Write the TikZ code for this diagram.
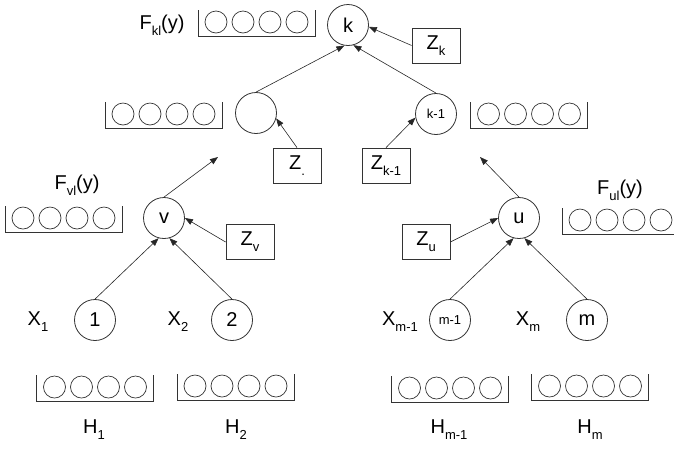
\documentclass[tikz,border=0pt]{standalone}
\usepackage{fontspec}
\setmainfont{Liberation Sans}
\usetikzlibrary{arrows.meta}
\usetikzlibrary{positioning}

\newcommand{\lowsub}[1]{\raisebox{-6pt}{\fontsize{13}{14}\selectfont #1}}

\tikzset{
    state/.style={draw=black!80,circle,line width=0.8pt,
        minimum size=41pt,inner sep=0pt,
        font=\fontsize{20}{24}\selectfont},
    small/.style={font=\fontsize{13}{15}\selectfont},
    zbox/.style={draw=black!80,line width=0.8pt,
        minimum width=48pt,minimum height=35pt,inner sep=0pt,
        font=\fontsize{20}{24}\selectfont},
    lbl/.style={inner sep=0pt,font=\fontsize{20}{24}\selectfont},
    link/.style={-{Triangle[length=8pt,width=6pt]},line width=0.6pt,draw=black!85},
    buf/.pic={
        \foreach \i in {0,...,3}{%
            \node[draw=black!80,circle,line width=0.7pt,
                minimum size=22pt,inner sep=0pt] (-c\i) at (-40.5+27*\i,0) {};
        }
        \draw[black!80,line width=0.8pt] (-58.5,-12) -- (-58.5,14) -- (58.5,14) -- (58.5,-12);
    },
}

\begin{document}
\begin{tikzpicture}[x=1pt,y=-1pt]
    \useasboundingbox (0,0) rectangle (674,451);

    % tree nodes
    \node[state] (k) at (348,25) {k};
    \node[state] (p) at (256,113) {};
    \node[state,small] (k1) at (436,114) {k-1};
    \node[state] (v) at (164,218) {v};
    \node[state] (u) at (519,218) {u};
    \node[state] (n1) at (95,320) {1};
    \node[state] (n2) at (232,320) {2};
    \node[state,small] (nm1) at (450,320) {m-1};
    \node[state] (nm) at (587,320) {m};

    % Z boxes
    \node[zbox] (zk) at (436,45.5) {Z\lowsub{k}};
    \node[zbox] (zp) at (297,165.5) {Z\lowsub{.}};
    \node[zbox] (zk1) at (386,165.5) {Z\lowsub{k-1}};
    \node[zbox] (zv) at (250,242) {Z\lowsub{v}};
    \node[zbox] (zu) at (426,242) {Z\lowsub{u}};

    % buffers
    \foreach \bx/\by/\bn in {256.5/22/bkl,163.5/114/bp,529/114/bk1,63.5/218/bvl,
        620.5/220/bul,95/387/bh1,235.5/386/bh2,450/388/bhm1,590/386/bhm}{%
        \pic (\bn) at (\bx,\by) {buf};
    }

    % labels
    \node[lbl] (fkl) at (162,25) {F\lowsub{kl}(y)};
    \node[lbl] (fvl) at (77,185) {F\lowsub{vl}(y)};
    \node[lbl] (ful) at (620,190) {F\lowsub{ul}(y)};
    \node[lbl] (x1) at (38,322) {X\lowsub{1}};
    \node[lbl] (x2) at (178,322) {X\lowsub{2}};
    \node[lbl] (xm1) at (400,322) {X\lowsub{m-1}};
    \node[lbl] (xm) at (528,322) {X\lowsub{m}};
    \node[lbl] (h1) at (94,430) {H\lowsub{1}};
    \node[lbl] (h2) at (236,430) {H\lowsub{2}};
    \node[lbl] (hm1) at (449,430) {H\lowsub{m-1}};
    \node[lbl] (hm) at (590,430) {H\lowsub{m}};

    \coordinate (vt) at (218,157);
    \coordinate (ut) at (480,157);

    % connectors
    \draw[link] (zk.west) -- (k.-5);
    \draw[link] (p.north) -- (k.-100);
    \draw[link] (k1.north) -- (k.-75);
    \draw[link] (zp.north) -- (p.-15);
    \draw[link] (zk1.north) -- (k1.190);
    \draw[link] (zv.west) -- (v.east);
    \draw[link] (zu.east) -- (u.west);
    \draw[link] (v.north) -- (vt);
    \draw[link] (u.north) -- (ut);
    \draw[link] (n1.north) -- (v.-105);
    \draw[link] (n2.north) -- (v.-75);
    \draw[link] (nm1.north) -- (u.-105);
    \draw[link] (nm.north) -- (u.-75);
\end{tikzpicture}
\end{document}
